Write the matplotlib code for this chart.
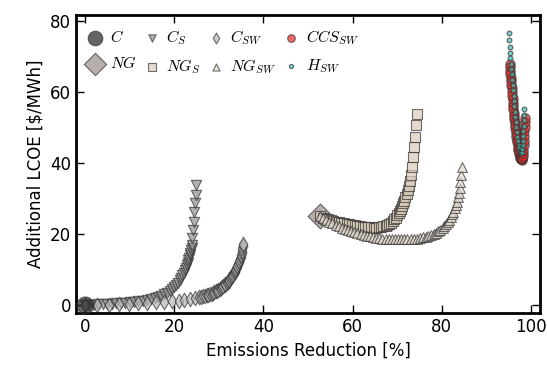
import numpy as np
import matplotlib
matplotlib.use("Agg")
import matplotlib.pyplot as plt

plt.rcParams['mathtext.fontset'] = 'cm'

# single points
c_x, c_y = [0.0], [0.0]
ng_x, ng_y = [52.7], [25.0]

# C_S sweep
cs_x = [0, 1, 2, 3, 4, 5, 6, 7, 8, 9, 10, 11, 12, 13, 14,
        14.8, 15.6, 16.4, 17.1, 17.8, 18.4, 19.0, 19.5, 20.0, 20.4, 20.8, 21.2,
        21.5, 21.8, 22.1, 22.4, 22.6, 22.8, 23.0, 23.2, 23.35, 23.5, 23.65, 23.8,
        23.9, 24.0, 24.1, 24.3, 24.4, 24.5, 24.7, 24.8, 25.0]
cs_y = [0, 0.05, 0.1, 0.15, 0.2, 0.25, 0.3, 0.4, 0.5, 0.6, 0.7, 0.85, 1.0, 1.2, 1.4,
        1.6, 1.9, 2.2, 2.6, 3.0, 3.4, 3.9, 4.4, 5.0, 5.6, 6.2, 6.9,
        7.6, 8.3, 9.0, 9.8, 10.5, 11.2, 11.9, 12.6, 13.3, 14.0, 14.7, 15.4,
        16.1, 16.8, 18.9, 21.1, 23.4, 26.2, 28.7, 31.0, 33.8]

# C_SW sweep
csw_x = [0, 2.7, 5.4, 7.7, 9.9, 12.0, 14.0, 16.0, 17.8, 19.5, 21.0, 22.3, 23.5,
         24.6, 25.6, 26.1, 26.5, 26.9, 27.3, 27.7, 28.0, 28.4, 28.7, 29.0, 29.3,
         29.6, 29.9, 30.2, 30.5, 30.8, 31.0, 31.3, 31.5, 31.8, 32.0, 32.2, 32.4,
         32.6, 32.8, 33.0, 33.2, 33.4, 33.6, 33.75, 33.9, 34.05, 34.2, 34.35, 34.5,
         34.65, 34.8, 34.9, 35.0, 35.1, 35.2, 35.3, 35.4, 35.5]
csw_y = [0, 0.05, 0.1, 0.2, 0.3, 0.4, 0.55, 0.7, 0.85, 1.0, 1.2, 1.4, 1.6,
         1.85, 2.1, 2.25, 2.4, 2.55, 2.7, 2.85, 3.0, 3.2, 3.4, 3.6, 3.8,
         4.05, 4.3, 4.55, 4.8, 5.05, 5.3, 5.6, 5.9, 6.2, 6.5, 6.8, 7.1,
         7.45, 7.8, 8.15, 8.5, 8.9, 9.3, 9.7, 10.1, 10.55, 11.0, 11.5, 12.0,
         12.5, 13.0, 13.55, 14.1, 14.7, 15.3, 15.9, 16.5, 17.3]

# NG_S sweep
ngs_x = [52.7, 53.3, 53.9, 54.5, 55.1, 55.7, 56.3, 56.9, 57.5, 58.1, 58.7, 59.3,
         59.9, 60.5, 61.1, 61.7, 62.3, 62.9, 63.5, 64.1, 64.7, 65.3, 65.9, 66.4,
         66.9, 67.4, 67.8, 68.2, 68.6, 69.0, 69.35, 69.7, 70.0, 70.3, 70.6, 70.85,
         71.1, 71.35, 71.6, 71.85, 72.1, 72.35, 72.6, 72.8, 73.0, 73.3, 73.5, 73.8,
         74.0, 74.2, 74.4]
ngs_y = [25.0, 24.6, 24.3, 24.1, 23.9, 23.7, 23.5, 23.35, 23.2, 23.05, 22.9, 22.75,
         22.6, 22.45, 22.25, 22.1, 22.0, 21.95, 21.9, 21.85, 21.8, 21.8, 21.85, 21.95,
         22.1, 22.3, 22.55, 22.85, 23.2, 23.6, 24.1, 24.6, 25.2, 25.8, 26.4, 27.1,
         27.8, 28.6, 29.4, 30.3, 31.3, 32.4, 33.5, 34.8, 36.6, 39.0, 41.8, 44.6,
         47.4, 50.7, 53.7]

# NG_SW sweep
ngsw_x = [52.7, 53.4, 54.1, 54.8, 55.5, 56.2, 56.9, 57.6, 58.3, 59.0, 59.7, 60.4,
          61.1, 61.8, 62.5, 63.2, 63.9, 64.6, 65.3, 66.0, 66.7, 67.4, 68.1, 68.8,
          69.5, 70.2, 70.9, 71.6, 72.3, 73.0, 73.7, 74.4, 75.1, 75.8, 76.4, 77.0,
          77.6, 78.2, 78.7, 79.2, 79.7, 80.2, 80.6, 81.0, 81.4, 81.7, 82.0, 82.3,
          82.6, 82.9, 83.1, 83.35, 83.6, 83.8, 84.0, 84.2, 84.35, 84.5]
ngsw_y = [25.0, 24.4, 23.9, 23.4, 22.95, 22.5, 22.1, 21.75, 21.4, 21.1, 20.8, 20.5,
          20.25, 20.0, 19.75, 19.5, 19.3, 19.1, 18.95, 18.8, 18.7, 18.6, 18.55, 18.5,
          18.45, 18.45, 18.45, 18.45, 18.5, 18.55, 18.6, 18.7, 18.85, 19.0, 19.2, 19.4,
          19.7, 20.0, 20.35, 20.75, 21.2, 21.7, 22.2, 22.8, 23.4, 24.0, 24.7, 25.5,
          26.3, 27.2, 28.1, 29.1, 30.3, 31.6, 33.0, 34.7, 36.6, 38.8]

# CCS_SW sweep
ccs_x = [95.2, 95.27, 95.33, 95.4, 95.47, 95.53, 95.6, 95.67, 95.73, 95.8, 95.87,
         95.93, 96.0, 96.07, 96.13, 96.2, 96.28, 96.35, 96.43, 96.5, 96.58, 96.65,
         96.73, 96.8, 96.9, 97.0, 97.1, 97.2, 97.3, 97.4, 97.5, 97.6, 97.7, 97.8,
         97.9, 98.0, 98.1, 98.2, 98.25, 98.3, 98.35, 98.4, 98.45, 98.5, 98.55,
         98.6, 98.65]
ccs_y = [68.0, 67.0, 66.0, 65.0, 64.0, 63.0, 62.0, 61.0, 60.0, 59.0, 58.0,
         57.0, 56.0, 55.1, 54.2, 53.3, 52.4, 51.5, 50.6, 49.8, 49.0, 48.2,
         47.4, 46.6, 45.8, 45.0, 44.3, 43.6, 43.0, 42.4, 41.9, 41.5, 41.2, 41.0,
         40.9, 41.0, 41.4, 42.0, 42.8, 43.8, 45.0, 46.3, 47.6, 48.9, 50.2,
         51.5, 52.8]

# H_SW sweep
h_x = [95.0, 95.1, 95.2, 95.3, 95.4, 95.5, 95.6, 95.7, 95.8, 95.9, 96.0, 96.1,
       96.2, 96.3, 96.4, 96.5, 96.6, 96.7, 96.8, 96.95, 97.1, 97.25, 97.4, 97.55,
       97.7, 97.85, 98.0, 98.1, 98.15, 98.2, 98.25, 98.3, 98.35, 98.4, 98.45, 98.5]
h_y = [76.5, 74.6, 72.7, 71.0, 69.5, 68.0, 66.5, 65.0, 63.5, 62.0, 60.5, 59.0,
       57.5, 56.0, 54.5, 53.0, 51.5, 50.1, 48.7, 47.4, 46.2, 45.1, 44.2, 43.5,
       43.0, 42.8, 43.2, 44.0, 45.0, 46.2, 47.5, 49.0, 50.5, 52.0, 53.5, 55.3]

fig = plt.figure(figsize=(5.47, 3.67), dpi=100)
ax = fig.add_axes([0.139, 0.147, 0.848, 0.812])

kw = dict(edgecolors='0.2', linewidths=0.8, alpha=0.7)
ax.scatter(c_x, c_y, s=150, marker='o', c='#222222', label='$C$', zorder=3, **kw)
ax.scatter(ng_x, ng_y, s=160, marker='D', c='#9a8a8a', label='$NG$', zorder=1, **kw)
ax.scatter(cs_x, cs_y, s=55, marker='v', c='#909090', label='$C_S$', zorder=2, **kw)
ax.scatter(ngs_x, ngs_y, s=45, marker='s', c='#d9cbb8', label='$NG_S$', zorder=2, **kw)
ax.scatter(csw_x, csw_y, s=55, marker='d', c='#b8b8b8', label='$C_{SW}$', zorder=2, **kw)
ax.scatter(ngsw_x, ngsw_y, s=50, marker='^', c='#e6dccf', label='$NG_{SW}$', zorder=2, **kw)
ax.scatter(ccs_x, ccs_y, s=45, marker='o', c='#e82828', label='$CCS_{SW}$', zorder=2, **kw)
ax.scatter(h_x, h_y, s=12, marker='o', c='#40b8b0', label='$H_{SW}$', zorder=3, **kw)

ax.set_xlim(-2, 102)
ax.set_ylim(-2.3, 81.7)
ax.set_xticks([0, 20, 40, 60, 80, 100])
ax.set_yticks([0, 20, 40, 60, 80])
ax.tick_params(direction='in', length=6, width=1, top=True, right=True, labelsize=12)
for sp in ax.spines.values():
    sp.set_linewidth(2)

ax.set_xlabel('Emissions Reduction [%]', fontsize=12)
ax.set_ylabel('Additional LCOE [$/MWh]', fontsize=12)

leg = ax.legend(loc='upper left', ncol=4, frameon=False, fontsize=11.5, scatterpoints=1,
                handlelength=0.8, handletextpad=0.5, columnspacing=0.55, labelspacing=0.65,
                borderaxespad=0.4)
for hnd, sz in zip(leg.legend_handles, [110, 130, 28, 28, 30, 26, 30, 9]):
    hnd.set_sizes([sz])

fig.savefig('out.png', dpi=100)
